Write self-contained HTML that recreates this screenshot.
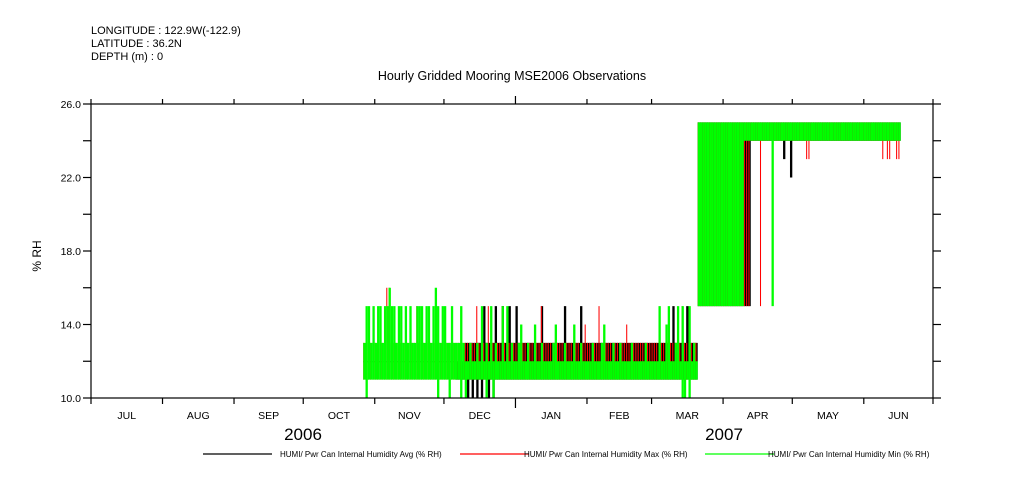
<!DOCTYPE html>
<html><head><meta charset="utf-8"><style>
body{margin:0;background:#fff;}
svg{display:block;font-family:"Liberation Sans",sans-serif;}
</style></head><body>
<svg id="chart" width="1009" height="504" viewBox="0 0 1009 504">
<g font-size="11" fill="#000">
<text x="91" y="34">LONGITUDE : 122.9W(-122.9)</text>
<text x="91" y="47">LATITUDE : 36.2N</text>
<text x="91" y="60">DEPTH (m) : 0</text>
<text x="512" y="80" font-size="12.5" text-anchor="middle">Hourly Gridded Mooring MSE2006 Observations</text>
<text transform="translate(41,256) rotate(-90)" text-anchor="middle" font-size="12">% RH</text>
<text x="303" y="440" font-size="17" text-anchor="middle">2006</text>
<text x="724" y="440" font-size="17" text-anchor="middle">2007</text>
</g>
<g id="series"></g>
<g id="axes" stroke="#000" stroke-width="1.2" fill="none"></g>
<g id="labels" font-size="10.5" fill="#000"></g>
<g id="legend" font-size="8" fill="#000"></g>
</svg>
<script>
const yTicks=[10,12,14,16,18,20,22,24,26];
const yLabels=["10.0","14.0","18.0","22.0","26.0"];
const months=["JUL","AUG","SEP","OCT","NOV","DEC","JAN","FEB","MAR","APR","MAY","JUN"];
const monthStartDays=[0,31,62,92,123,153,184,215,243,274,304,335,365];
const firstDay=118;
const greenHi=[13,15,15,13,15,13,15,15,13,15, 15,16,15,15,13,15,15,13,15,13, 15,13,13,15,15,15,13,15,15,13, 15,16,15,13,15,15,13,13,15,13,
13,13,15,13,12,12,13,12,12,13, 12,15,12,13,12,15,12,13,12,12, 15,12,15,12,13,12,12,13,14,12, 12,13,12,12,14,12,12,13,12,12,
12,12,13,14,12,12,12,13,12,12, 12,14,12,12,13,12,12,12,12,13, 12,12,12,13,14,12,12,12,13,12, 12,13,12,12,12,12,13,12,12,12,
12,12,13,12,12,12,12,12,15,12, 12,14,15,12,12,13,15,12,15,12, 12,15,12,13,12,
25,25,25,25,25,25,25,25,25,25, 25,25,25,25,25,25,25,25,25,25, 25,25,25,25,25,25,25,25,25,25, 25,25,25,25,25,25,25,25,25,25,
25,25,25,25,25,25,25,25,25,25, 25,25,25,25,25,25,25,25,25,25, 25,25,25,25,25,25,25,25,25,25, 25,25,25,25,25,25,25,25,25, 25,25,25,25,25,25,25,25,25];
const greenLo=[11,10,11,11,11,11,11,11,11,11, 11,11,11,11,11,11,11,11,11,11, 11,11,11,11,11,11,11,11,11,11, 11,11,10,11,11,11,11,10,11,11,
11,11,10,11,10,11,11,11,11,11, 11,11,11,10,11,11,10,11,11,11, 11,11,11,11,11,11,11,11,11,11, 11,11,11,11,11,11,11,11,11,11,
11,11,11,11,11,11,11,11,11,11, 11,11,11,11,11,11,11,11,11,11, 11,11,11,11,11,11,11,11,11,11, 11,11,11,11,11,11,11,11,11,11,
11,11,11,11,11,11,11,11,11,11, 11,11,11,11,11,11,11,11,10,10, 11,10,11,11,11,
15,15,15,15,15,15,15,15,15,15, 15,15,15,15,15,15,15,15,15,15, 24,24,24,24,24,24,24,24,24,24, 24,24,15,24,24,24,24,24,24,24,
24,24,24,24,24,24,24,24,24,24, 24,24,24,24,24,24,24,24,24,24, 24,24,24,24,24,24,24,24,24,24, 24,24,24,24,24,24,24,24,24, 24,24,24,24,24,24,24,24,24];
const avgHi=[12,12,12,12,12,12,12,12,12,12, 12,12,12,12,12,12,12,12,12,12, 12,12,12,12,12,12,12,12,12,12, 12,12,12,12,12,12,12,12,12,12,
12,12,12,12,13,13,13,13,13,13, 13,13,15,13,13,13,13,15,13,13, 15,13,13,15,13,13,15,13,13,13, 13,13,13,13,13,13,13,15,13,13,
13,13,13,13,13,13,13,15,13,13, 13,13,13,13,15,13,13,13,13,13, 13,13,13,13,13,13,13,13,13,13, 13,13,13,13,13,13,13,13,13,13,
13,13,13,13,13,13,13,13,13,13, 13,13,13,13,15,13,13,13,13,13, 15,13,13,13,13,
25,25,25,25,25,25,25,25,25,25, 25,25,25,25,25,25,25,25,25,25, 25,25,25,25,25,25,25,25,25,25, 25,25,25,25,25,25,25,25,25,25,
25,25,25,25,25,25,25,25,25,25, 25,25,25,25,25,25,25,25,25,25, 25,25,25,25,25,25,25,25,25,25, 25,25,25,25,25,25,25,25,25, 25,25,25,25,25,25,25,25,25];
const avgLo=[12,12,12,12,12,12,12,12,12,12, 12,12,12,12,12,12,12,12,12,12, 12,12,12,12,12,12,12,12,12,12, 12,12,12,12,12,12,12,12,12,12,
11,11,11,11,11,10,11,10,11,10, 11,10,11,11,10,11,10,11,11,11, 11,11,11,11,11,11,11,11,11,11, 11,11,11,11,11,11,11,11,11,11,
11,11,11,11,11,11,11,11,11,11, 11,11,11,11,11,11,11,11,11,11, 11,11,11,11,11,11,11,11,11,11, 11,11,11,11,11,11,11,11,11,11,
11,11,11,11,11,11,11,11,11,11, 11,11,11,11,11,11,11,11,11,11, 11,11,11,11,11,
15,15,15,15,15,15,15,15,15,15, 15,15,15,15,15,15,15,15,15,15, 15,15,15,24,24,24,24,24,24,24, 24,24,24,24,24,24,24,23,24,24,
22,24,24,24,24,24,24,24,24,24, 24,24,24,24,24,24,24,24,24,24, 24,24,24,24,24,24,24,24,24,24, 24,24,24,24,24,24,24,24,24, 24,24,24,24,24,24,24,24,24];
const maxHi=[13,13,13,13,13,13,13,13,13,13, 16,16,13,13,13,13,13,13,13,13, 13,13,13,15,13,13,13,13,13,13, 13,13,13,13,13,13,13,13,13,13,
13,13,13,13,13,13,13,13,13,15, 13,13,13,13,15,13,13,13,13,13, 15,13,13,13,13,13,13,13,13,13, 13,13,13,13,13,13,13,15,13,13,
13,13,13,13,13,13,13,13,13,13, 13,13,13,13,13,13,14,13,13,13, 13,13,15,13,13,13,13,13,13,13, 13,13,13,13,14,13,13,13,13,13,
13,13,13,13,13,13,13,13,13,13, 13,13,13,13,13,13,13,13,15,13, 13,13,13,13,13,
25,25,25,25,25,25,25,25,25,25, 25,25,25,25,25,25,25,25,25,25, 25,25,25,25,25,25,25,25,25,25, 25,25,25,25,25,25,25,25,25,25,
25,25,25,25,25,25,25,25,25,25, 25,25,25,25,25,25,25,25,25,25, 25,25,25,25,25,25,25,25,25,25, 25,25,25,25,25,25,25,25,25, 25,25,25,25,25,25,25,25,25];
const maxLo=[11,11,11,11,11,11,11,11,11,11, 11,11,11,11,11,11,11,11,11,11, 11,11,11,11,11,11,11,11,11,11, 11,11,11,11,11,11,11,11,11,11,
11,11,11,11,11,11,11,11,11,11, 11,11,11,11,11,11,11,11,11,11, 11,11,11,11,11,11,11,11,11,11, 11,11,11,11,11,11,11,11,11,11,
11,11,11,11,11,11,11,11,11,11, 11,11,11,11,11,11,11,11,11,11, 11,11,11,11,11,11,11,11,11,11, 11,11,11,11,11,11,11,11,11,11,
11,11,11,11,11,11,11,11,11,11, 11,11,11,11,11,11,11,11,11,11, 11,11,11,11,11,
15,15,15,15,15,15,15,15,15,15, 15,15,15,15,15,15,15,15,15,15, 15,15,15,24,24,24,24,15,24,24, 24,24,24,24,24,24,24,24,24,24,
24,24,24,24,24,24,24,23,23,24, 24,24,24,24,24,24,24,24,24,24, 24,24,24,24,24,24,24,24,24,24, 24,24,24,24,24,24,24,24,24, 24,23,24,23,23,24,24,23,23];

const X0=91,X1=933,Y0=398,Y1=104;
function xs(d){return X0+(X1-X0)*d/365;}
function ys(v){return Y0-(Y0-Y1)*(v-10)/16;}
const NS="http://www.w3.org/2000/svg";
function mk(tag,attrs,parent){const e=document.createElementNS(NS,tag);for(const k in attrs)e.setAttribute(k,attrs[k]);parent.appendChild(e);return e;}

const series=document.getElementById('series');
function drawSeries(lo,hi,color,name,frac,off){
  const n=Math.min(lo.length,hi.length);
  const g=mk('g',{fill:color},series);
  
  
  const dw=xs(1)-xs(0), w=dw*frac;
  for(let i=0;i<n;i++){const d=firstDay+i;
    const r=mk('rect',{x:(xs(d)+dw*off).toFixed(2),y:ys(hi[i]).toFixed(2),width:w.toFixed(2),height:Math.max(1,ys(lo[i])-ys(hi[i])).toFixed(2)},g);
    
    
  }
}
drawSeries(avgLo,avgHi,'#000','series-avg',1.0,0);
drawSeries(maxLo,maxHi,'#ff0000','series-max',0.45,0);
drawSeries(greenLo,greenHi,'#00ff00','series-min',1.0,0);

const axes=document.getElementById('axes');
const frame=mk('rect',{x:X0,y:Y1,width:X1-X0,height:Y0-Y1},axes);


yTicks.forEach(v=>{
  const t=mk('line',{x1:X0-8,x2:X0,y1:ys(v),y2:ys(v)},axes);
  
  
  const r=mk('line',{x1:X1,x2:X1+8,y1:ys(v),y2:ys(v)},axes);
  
  
});
const labels=document.getElementById('labels');
yLabels.forEach(s=>{
  const t=mk('text',{x:X0-10,y:ys(parseFloat(s))+4,'text-anchor':'end'},labels);
  t.textContent=s;
  
  
});
monthStartDays.forEach((d,i)=>{
  const big=(d===184);
  const b=mk('line',{x1:xs(d),x2:xs(d),y1:Y0,y2:Y0+(big?10:6)},axes);
  
  
  const t=mk('line',{x1:xs(d),x2:xs(d),y1:Y1-(big?8:5),y2:Y1},axes);
  
  
});
months.forEach((m,i)=>{
  const t=mk('text',{x:(xs(monthStartDays[i])+xs(monthStartDays[i+1]))/2,y:419,'text-anchor':'middle'},labels);
  t.textContent=m;
  
  
});

const legendNames=["HUMI/ Pwr Can Internal Humidity Avg (% RH)","HUMI/ Pwr Can Internal Humidity Max (% RH)","HUMI/ Pwr Can Internal Humidity Min (% RH)"];
const legendColors=['#000','#ff0000','#00ff00'];
const legend=document.getElementById('legend');
legendNames.forEach((n,i)=>{
  const lx=[203,460,705][i];
  const ln=mk('line',{x1:lx,x2:lx+69,y1:454,y2:454,stroke:legendColors[i],'stroke-width':'1.2'},legend);
  
  
  const t=mk('text',{x:[280,524,768][i],y:457},legend);
  t.textContent=n;
  
  
});
</script>
</body></html>
